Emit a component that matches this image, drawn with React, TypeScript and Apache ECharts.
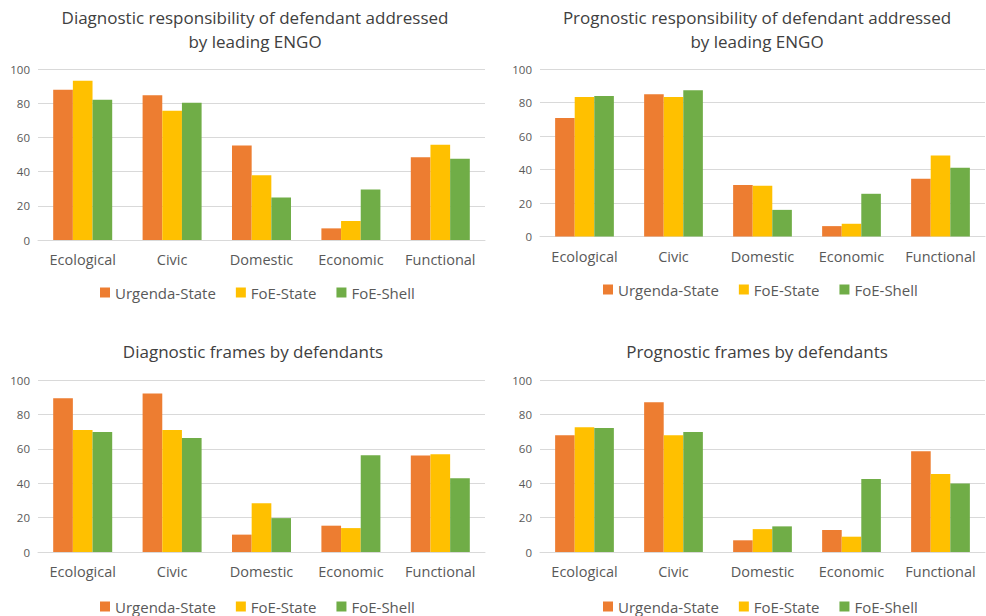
import React, { useEffect, useRef } from "react";
import * as echarts from "echarts";

const categories = ["Ecological", "Civic", "Domestic", "Economic", "Functional"];
const seriesNames = ["Urgenda-State", "FoE-State", "FoE-Shell"];
const colors = ["#ED7D31", "#FFC000", "#70AD47"];

// Panel 1: Diagnostic responsibility of defendant addressed by leading ENGO
const diagRespUrgenda = [87.9, 84.6, 55.3, 6.8, 48.4];
const diagRespFoEState = [93.2, 75.6, 37.9, 11.1, 55.7];
const diagRespFoEShell = [82.0, 80.3, 24.8, 29.5, 47.5];

// Panel 2: Prognostic responsibility of defendant addressed by leading ENGO
const progRespUrgenda = [70.7, 84.9, 30.7, 6.2, 34.5];
const progRespFoEState = [83.3, 83.3, 30.3, 7.6, 48.4];
const progRespFoEShell = [83.9, 87.3, 15.9, 25.5, 41.0];

// Panel 3: Diagnostic frames by defendants
const diagFramesUrgenda = [89.4, 92.1, 10.1, 15.3, 56.1];
const diagFramesFoEState = [71.0, 71.0, 28.4, 13.9, 56.9];
const diagFramesFoEShell = [69.8, 66.3, 19.7, 56.3, 42.9];

// Panel 4: Prognostic frames by defendants
const progFramesUrgenda = [67.9, 87.0, 6.8, 12.8, 58.6];
const progFramesFoEState = [72.5, 67.9, 13.3, 8.9, 45.3];
const progFramesFoEShell = [72.1, 69.8, 14.9, 42.4, 39.8];

const titles = [
  "Diagnostic responsibility of defendant addressed\nby leading ENGO",
  "Prognostic responsibility of defendant addressed\nby leading ENGO",
  "Diagnostic frames by defendants",
  "Prognostic frames by defendants",
];

const panelData = [
  [diagRespUrgenda, diagRespFoEState, diagRespFoEShell],
  [progRespUrgenda, progRespFoEState, progRespFoEShell],
  [diagFramesUrgenda, diagFramesFoEState, diagFramesFoEShell],
  [progFramesUrgenda, progFramesFoEState, progFramesFoEShell],
];

const FONT = "'Open Sans', sans-serif";

const layout = [
  { left: 38, width: 447, top: 69, height: 171, titleTop: 0, legendTop: 285, legendLeft: 100, cx: 250 },
  { left: 540, width: 445, top: 69, height: 167.5, titleTop: 0, legendTop: 282, legendLeft: 603, cx: 752 },
  { left: 38, width: 447, top: 380, height: 172, titleTop: 334, legendTop: 599, legendLeft: 100, cx: 248 },
  { left: 540, width: 445, top: 380, height: 172, titleTop: 334, legendTop: 599, legendLeft: 603, cx: 752 },
];

const suffix = (i: number) => "\u200b".repeat(i);

export default function App() {
  const ref = useRef<HTMLDivElement>(null);
  useEffect(() => {
    if (!ref.current) return;
    const chart = echarts.init(ref.current, undefined, { renderer: "svg" });
    const option: any = {
      animation: false,
      backgroundColor: "#ffffff",
      color: colors,
      title: layout.map((l, i) => ({
        text: titles[i],
        left: l.cx,
        top: l.titleTop,
        textAlign: "center",
        textStyle: {
          fontFamily: FONT,
          fontSize: 17,
          fontWeight: "normal",
          color: "#404040",
          lineHeight: 24,
        },
      })),
      legend: layout.map((l, i) => ({
        left: l.legendLeft,
        top: l.legendTop,
        padding: 0,
        data: seriesNames.map((n) => n + suffix(i)),
        icon: "rect",
        itemWidth: 10,
        itemHeight: 10,
        itemGap: 20,
        textStyle: { fontFamily: FONT, fontSize: 15, color: "#595959" },
      })),
      grid: layout.map((l) => ({
        left: l.left,
        width: l.width,
        top: l.top,
        height: l.height,
        containLabel: false,
      })),
      xAxis: layout.map((_, i) => ({
        type: "category",
        gridIndex: i,
        data: categories,
        axisTick: { show: false },
        axisLine: { lineStyle: { color: "#D9D9D9" } },
        axisLabel: { fontFamily: FONT, fontSize: 14.5, color: "#595959", margin: 12, interval: 0 },
      })),
      yAxis: layout.map((_, i) => ({
        type: "value",
        gridIndex: i,
        min: 0,
        max: 100,
        interval: 20,
        axisLine: { show: false },
        axisTick: { show: false },
        axisLabel: { fontFamily: FONT, fontSize: 11.5, color: "#595959", margin: 8 },
        splitLine: { lineStyle: { color: "#D9D9D9" } },
      })),
      series: panelData.flatMap((vals, i) =>
        vals.map((d, j) => ({
          type: "bar",
          name: seriesNames[j] + suffix(i),
          xAxisIndex: i,
          yAxisIndex: i,
          data: d,
          barGap: "0%",
          barCategoryGap: "34%",
          itemStyle: { color: colors[j] },
        }))
      ),
    };
    chart.setOption(option);
    return () => chart.dispose();
  }, []);
  return (
    <div
      ref={ref}
      style={{ position: "fixed", left: 0, top: 0, width: 986, height: 616 }}
    />
  );
}
